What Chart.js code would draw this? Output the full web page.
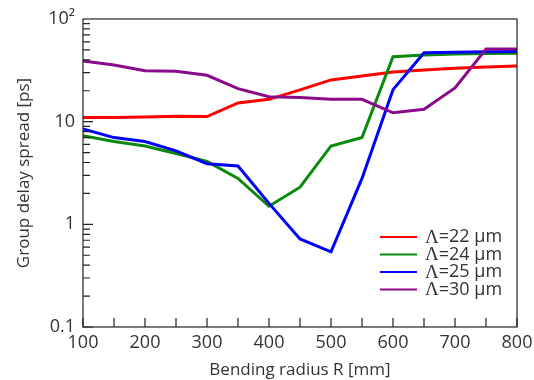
<!DOCTYPE html>
<html>
<head>
<meta charset="utf-8">
<script src="https://cdn.jsdelivr.net/npm/chart.js@4.4.1/dist/chart.umd.min.js"></script>
<style>
  html, body { margin: 0; padding: 0; background: #fff; }
</style>
</head>
<body>
<canvas id="chart" width="534" height="380"></canvas>
<script>
/* =========================
    DATA
========================= */

// Biegeradius R [mm]
const radius = [100, 150, 200, 250, 300, 350, 400, 450, 500, 550, 600, 650, 700, 750, 800];

// Group delay spread [ps] pro Gitterkonstante
const lam22 = [11.0, 11.0, 11.1, 11.3, 11.2, 15.2, 16.5, 20.4, 25.5, 27.9, 30.5, 31.9, 33.2, 34.0, 34.8];
const lam24 = [7.3, 6.4, 5.8, 4.9, 4.1, 2.8, 1.5, 2.3, 5.8, 7.0, 43, 44.5, 45.5, 46, 46.5];
const lam25 = [8.5, 7.0, 6.4, 5.2, 3.9, 3.7, 1.6, 0.72, 0.54, 2.8, 20.5, 47.0, 47.5, 48, 48.2];
const lam30 = [39, 35.6, 31.4, 31, 28.3, 21, 17.5, 17.2, 16.5, 16.5, 12.2, 13.2, 21.3, 51, 51];

const seriesLabels = ["Λ=22 µm", "Λ=24 µm", "Λ=25 µm", "Λ=30 µm"];

// Achsen-Ticks
const xTicks = [100, 200, 300, 400, 500, 600, 700, 800];
const xMinor = [150, 250, 350, 450, 550, 650, 750];
const yTicks = [0.1, 1, 10, 100];
const yTickLabels = ["0.1", "1", "10", "10²"];


/* =========================
    STYLE
========================= */

const FONT = "'Open Sans', 'DejaVu Sans', sans-serif";
const SERIF = "'Liberation Serif', 'DejaVu Serif', serif";
const TEXT = "#333";
const COLORS = ["#ff0000", "#0a8a0a", "#0000ff", "#8b0a8b"];


/* =========================
    PLUGINS
========================= */

// Rahmen + nach innen zeigende Ticks
const frameTicks = {
  id: "frameTicks",
  afterDatasetsDraw(chart) {
    const { ctx, chartArea: a, scales } = chart;
    const xs = scales.x, ys = scales.y;
    ctx.save();
    ctx.strokeStyle = "#222";
    ctx.lineWidth = 1.2;
    ctx.strokeRect(a.left, a.top, a.right - a.left, a.bottom - a.top);

    ctx.beginPath();
    // x ticks (unten, nach oben)
    xTicks.concat(xMinor).forEach(v => {
      const px = xs.getPixelForValue(v);
      ctx.moveTo(px, a.bottom);
      ctx.lineTo(px, a.bottom - 9);
    });
    // y ticks (links, nach rechts)
    for (let e = -1; e <= 1; e++) {
      for (let k = 1; k <= 9; k++) {
        const v = k * Math.pow(10, e);
        const py = ys.getPixelForValue(v);
        ctx.moveTo(a.left, py);
        ctx.lineTo(a.left + (k === 1 ? 10 : 7), py);
      }
    }
    ctx.stroke();
    ctx.restore();
  }
};

// Legende im Plotbereich (Λ in Serifenschrift wie im Original)
const insideLegend = {
  id: "insideLegend",
  afterDraw(chart) {
    const { ctx } = chart;
    ctx.save();
    ctx.textBaseline = "middle";
    ctx.fillStyle = TEXT;
    chart.data.datasets.forEach((ds, i) => {
      const y = 237 + i * 17.5;
      ctx.strokeStyle = ds.borderColor;
      ctx.lineWidth = 2;
      ctx.beginPath();
      ctx.moveTo(380, y);
      ctx.lineTo(417, y);
      ctx.stroke();

      const head = ds.label.charAt(0);
      const rest = ds.label.slice(1);
      ctx.font = "19px " + SERIF;
      ctx.fillText(head, 425, y + 1);
      const w = ctx.measureText(head).width;
      ctx.font = "18px " + FONT;
      ctx.fillText(rest, 425 + w, y);
    });
    ctx.restore();
  }
};


/* =========================
    CHART
========================= */

const series = [lam22, lam24, lam25, lam30];

new Chart(document.getElementById("chart"), {
  type: "line",
  data: {
    labels: radius,
    datasets: series.map((vals, i) => ({
      label: seriesLabels[i],
      data: radius.map((r, j) => ({ x: r, y: vals[j] })),
      borderColor: COLORS[i],
      backgroundColor: COLORS[i],
      borderWidth: 3,
      pointRadius: 0,
      tension: 0,
      order: 4 - i
    }))
  },
  options: {
    responsive: false,
    animation: false,
    layout: { padding: { top: 19, right: 17, left: 0, bottom: 0 } },
    plugins: {
      legend: { display: false },
      tooltip: { enabled: false }
    },
    scales: {
      x: {
        type: "linear",
        min: 100,
        max: 800,
        afterBuildTicks: s => { s.ticks = xTicks.map(v => ({ value: v })); },
        afterFit: s => { s.height = 53; s.paddingLeft = 0; s.paddingRight = 0; },
        grid: { display: false, drawTicks: false },
        border: { display: false },
        ticks: {
          padding: 5,
          maxRotation: 0,
          color: TEXT,
          font: { family: FONT, size: 18 }
        },
        title: {
          display: true,
          text: "Bending radius R [mm]",
          color: TEXT,
          font: { family: FONT, size: 17 },
          padding: { top: 0, bottom: 0 }
        }
      },
      y: {
        type: "logarithmic",
        min: 0.1,
        max: 100,
        afterBuildTicks: s => { s.ticks = yTicks.map(v => ({ value: v })); },
        afterFit: s => { s.width = 83; s.paddingTop = 0; s.paddingBottom = 0; },
        grid: { display: false, drawTicks: false },
        border: { display: false },
        ticks: {
          padding: 8,
          color: TEXT,
          font: { family: FONT, size: 18 },
          callback: v => yTickLabels[yTicks.indexOf(v)]
        },
        title: {
          display: true,
          text: "Group delay spread [ps]",
          color: TEXT,
          font: { family: FONT, size: 17 },
          padding: { top: 14, bottom: 0 }
        }
      }
    }
  },
  plugins: [frameTicks, insideLegend]
});
</script>
</body>
</html>
